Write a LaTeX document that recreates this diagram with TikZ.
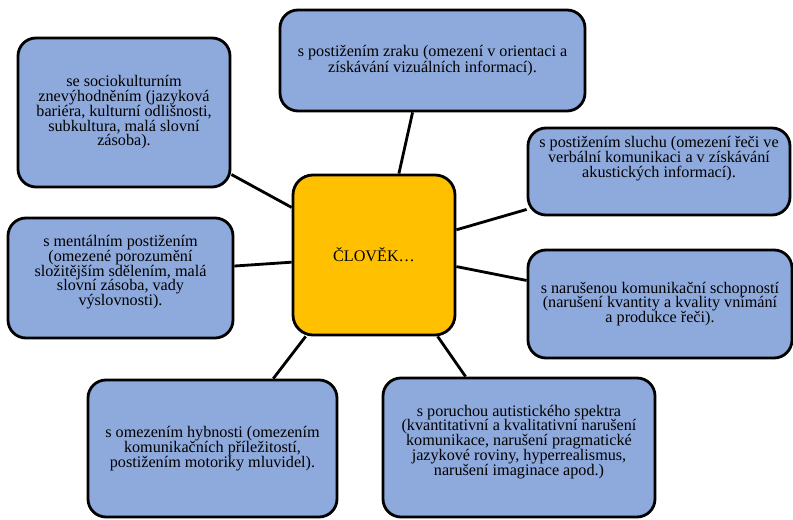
\documentclass[tikz,border=0pt]{standalone}
\usepackage{fontspec}
\setmainfont{Liberation Serif}
\definecolor{boxblue}{HTML}{8EA9DB}
\definecolor{hubgold}{HTML}{FFC000}
\begin{document}
\begin{tikzpicture}[
    box/.style={draw,line width=2pt,rounded corners=0.45cm,fill=boxblue,
      align=center,inner sep=0pt,font=\fontsize{11.5}{10.5}\selectfont},
    hub/.style={draw,line width=2pt,rounded corners=0.5cm,fill=hubgold,
      minimum width=4.05cm,minimum height=4cm,font=\fontsize{11.5}{10.5}\selectfont},
    spoke/.style={line width=2pt}]
  \useasboundingbox (0,0) rectangle (19.825,13);

  % centre
  \node[hub] (clovek) at (9.35,6.625) {ČLOVĚK\dots};

  % boxes around
  \node[box,minimum width=5.3cm,minimum height=3.725cm] (socio) at (3.1,10.1875)
    {se sociokulturním\\znevýhodněním (jazyková\\bariéra, kulturní odlišnosti,\\subkultura, malá slovní\\zásoba).};
  \node[box,minimum width=7.625cm,minimum height=2.525cm] (zrak) at (10.8125,11.4875)
    {s postižením zraku (omezení v orientaci a\\získávání vizuálních informací).};
  \node[box,minimum width=6.55cm,minimum height=2.175cm] (sluch) at (16.475,8.7125)
    {s postižením sluchu (omezení řeči ve\\verbální komunikaci a v získávání\\akustických informací).\\ \mbox{}\\ \mbox{}};
  \node[box,minimum width=5.625cm,minimum height=3cm] (mental) at (3.0125,6.05)
    {s mentálním postižením\\(omezené porozumění\\složitějším sdělením, malá\\slovní zásoba, vady\\výslovnosti).\\ \mbox{}};
  \node[box,minimum width=6.6cm,minimum height=2.7cm] (komun) at (16.5,5.4)
    {s narušenou komunikační schopností\\(narušení kvantity a kvality vnímání\\a produkce řeči).};
  \node[box,minimum width=6.225cm,minimum height=3.425cm] (hybnost) at (5.3125,1.7875)
    {s omezením hybnosti (omezením\\komunikačních příležitostí,\\postižením motoriky mluvidel).};
  \node[box,minimum width=6.8cm,minimum height=3.475cm] (autism) at (12.975,1.8125)
    {s poruchou autistického spektra\\(kvantitativní a kvalitativní narušení\\komunikace, narušení pragmatické\\jazykové roviny, hyperrealismus,\\narušení imaginace apod.)\\ \mbox{}};

  % spokes
  \draw[spoke] (clovek.150) -- (socio.330);
  \draw[spoke] (clovek.73) -- (zrak.249);
  \draw[spoke] (clovek.17) -- (sluch.196);
  \draw[spoke] (clovek.352) -- (komun.170);
  \draw[spoke] (clovek.308) -- (autism.127);
  \draw[spoke] (clovek.230) -- (hybnost.49);
  \draw[spoke] (clovek.185) -- (mental.6);
\end{tikzpicture}
\end{document}
